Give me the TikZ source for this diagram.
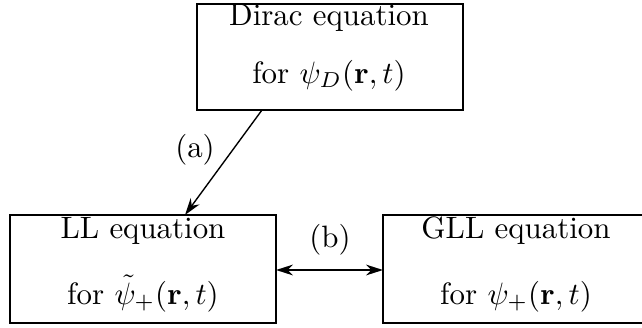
\documentclass[tikz,border=0pt]{standalone}
\usetikzlibrary{calc,arrows.meta}
\begin{document}
\begin{tikzpicture}[x=0.3236pt,y=-0.3236pt,
  eqbox/.style={draw,line width=0.75pt,inner sep=0pt,outer sep=0pt,minimum width=86.1pt},
  txt/.style={anchor=base,inner sep=0pt,font=\fontsize{10}{12}\selectfont},
  conn/.style={line width=0.45pt},
  tip/.style={Stealth[length=5.5pt,width=3.5pt]}]
\useasboundingbox (0,0) rectangle (642,327);
\node[eqbox,minimum height=34.3pt] (dirac) at (330,57) {};
\node[eqbox,minimum height=34.95pt] (ll) at (143,269) {};
\node[eqbox,minimum height=34.95pt] (gll) at (516,269) {};
\node[txt] (t1) at (329,25) {Dirac equation};
\node[txt] (t2) at (329,83) {for $\psi_D(\mathbf{r},t)$};
\node[txt] (t3) at (143,238) {LL equation};
\node[txt] (t4) at (143,304) {for $\tilde{\psi}_+(\mathbf{r},t)$};
\node[txt] (t5) at (516,238) {GLL equation};
\node[txt] (t6) at (516,304) {for $\psi_+(\mathbf{r},t)$};
\coordinate (a1) at ($(dirac.south)+(-68,0)$);
\coordinate (a2) at ($(ll.north)+(42,0)$);
\draw[conn,-{Stealth[length=5.5pt,width=3.5pt]}] (a1) -- (a2);
\coordinate (b1) at ($(ll.east)+(0,1)$);
\coordinate (b2) at ($(gll.west)+(0,1)$);
\draw[line width=0.6pt,{Stealth[length=5.5pt,width=3.5pt]}-{Stealth[length=5.5pt,width=3.5pt]}] (b1) -- (b2);
\node[txt] (la) at (195,157) {(a)};
\node[txt] (lb) at (330,247) {(b)};
\end{tikzpicture}
\end{document}
